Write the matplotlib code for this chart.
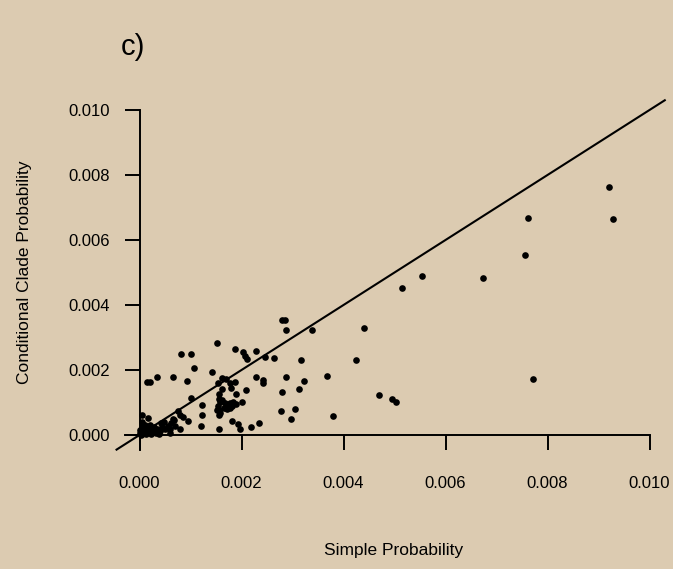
import matplotlib
matplotlib.use('Agg')
import matplotlib.pyplot as plt
from matplotlib.ticker import FormatStrFormatter

plt.rcParams['font.family'] = ['Liberation Sans', 'DejaVu Sans']

# sparse points, upper right
far_x = [0.00921, 0.00929, 0.00762, 0.00756, 0.00673, 0.00772, 0.00554, 0.00515]
far_y = [0.00763, 0.00665, 0.00668, 0.00554, 0.00484, 0.00173, 0.00489, 0.00452]

# middle band
mid_x = [0.00279, 0.00286, 0.00287, 0.00338, 0.00441, 0.00317, 0.00425, 0.00287,
         0.00368, 0.00323, 0.00313, 0.00279, 0.00470, 0.00496, 0.00502, 0.00304,
         0.00277, 0.00298, 0.00379]
mid_y = [0.00354, 0.00354, 0.00323, 0.00323, 0.00330, 0.00231, 0.00231, 0.00179,
         0.00183, 0.00167, 0.00143, 0.00133, 0.00124, 0.00112, 0.00103, 0.00081,
         0.00075, 0.00050, 0.00059]

# dense group around 0.001 - 0.0025
near_x = [0.00151, 0.00081, 0.00100, 0.00187, 0.00202, 0.00207, 0.00210, 0.00228,
          0.00247, 0.00264, 0.00107, 0.00143, 0.00015, 0.00020, 0.00035, 0.00066,
          0.00094, 0.00153, 0.00161, 0.00169, 0.00187, 0.00177, 0.00228, 0.00243,
          0.00243, 0.00179, 0.00162, 0.00155, 0.00156, 0.00162, 0.00209, 0.00189,
          0.00101, 0.00122, 0.00200, 0.00174, 0.00181, 0.00189, 0.00166, 0.00156,
          0.00153, 0.00155, 0.00122, 0.00075, 0.00079, 0.00085, 0.00095, 0.00181,
          0.00194, 0.00198, 0.00218, 0.00234, 0.00156, 0.00120, 0.00079, 0.00060,
          0.00158, 0.00168, 0.00177, 0.00184, 0.00151, 0.00158, 0.00171, 0.00177]
near_y = [0.00284, 0.00248, 0.00250, 0.00266, 0.00255, 0.00243, 0.00233, 0.00259,
          0.00241, 0.00237, 0.00207, 0.00193, 0.00162, 0.00162, 0.00179, 0.00179,
          0.00167, 0.00159, 0.00176, 0.00173, 0.00164, 0.00161, 0.00179, 0.00169,
          0.00159, 0.00144, 0.00142, 0.00125, 0.00111, 0.00108, 0.00138, 0.00125,
          0.00115, 0.00092, 0.00101, 0.00089, 0.00089, 0.00094, 0.00082, 0.00077,
          0.00089, 0.00062, 0.00062, 0.00073, 0.00062, 0.00056, 0.00043, 0.00044,
          0.00034, 0.00018, 0.00026, 0.00036, 0.00018, 0.00028, 0.00018, 0.00005,
          0.00101, 0.00098, 0.00098, 0.00103, 0.00077, 0.00067, 0.00080, 0.00083]

# cluster at the origin
orig_x = [0.00002, 0.00005, 0.00010, 0.00003, 0.00008, 0.00015, 0.00020, 0.00012,
          0.00004, 0.00018, 0.00025, 0.00030, 0.00035, 0.00040, 0.00028, 0.00045,
          0.00050, 0.00055, 0.00060, 0.00010, 0.00020, 0.00004, 0.00017, 0.00004,
          0.00043, 0.00049, 0.00062, 0.00000, 0.00001, 0.00007, 0.00012, 0.00022,
          0.00032, 0.00038, 0.00065, 0.00068, 0.00070]
orig_y = [0.00000, 0.00002, 0.00005, 0.00010, 0.00012, 0.00010, 0.00008, 0.00018,
          0.00022, 0.00020, 0.00015, 0.00010, 0.00020, 0.00012, 0.00025, 0.00025,
          0.00018, 0.00028, 0.00020, 0.00030, 0.00032, 0.00062, 0.00051, 0.00041,
          0.00036, 0.00041, 0.00036, 0.00005, 0.00015, 0.00030, 0.00004, 0.00003,
          0.00005, 0.00003, 0.00050, 0.00045, 0.00028]

diag = [-0.00045, 0.0103]
ticks = [0.0, 0.002, 0.004, 0.006, 0.008, 0.010]

bg = '#dccbb1'

fig = plt.figure(figsize=(6.73, 5.69), dpi=100, facecolor=bg)
ax = fig.add_axes([114 / 673, 117.75 / 569, 561 / 673, 357.5 / 569], facecolor=bg)

xs = far_x + mid_x + near_x + orig_x
ys = far_y + mid_y + near_y + orig_y
ax.plot(xs, ys, 'o', color='black', ms=4.8, mew=0)
ax.plot(diag, diag, color='black', lw=1.5)

ax.set_xlim(-0.0005, 0.0105)
ax.set_ylim(-0.0005, 0.0105)

for s in ['top', 'right']:
    ax.spines[s].set_visible(False)
ax.spines['left'].set_position(('data', 0))
ax.spines['bottom'].set_position(('data', 0))
ax.spines['left'].set_bounds(-0.00046, 0.010)
ax.spines['bottom'].set_bounds(-0.00028, 0.010)
for s in ['left', 'bottom']:
    ax.spines[s].set_linewidth(1.4)

ax.set_xticks(ticks)
ax.set_yticks(ticks)
ax.xaxis.set_major_formatter(FormatStrFormatter('%.3f'))
ax.yaxis.set_major_formatter(FormatStrFormatter('%.3f'))
ax.tick_params(axis='x', direction='out', length=10.8, width=1.4, pad=19, labelsize=12)
ax.tick_params(axis='y', direction='out', length=10.8, width=1.4, pad=10.5, labelsize=12)

fig.text(394 / 673, 1 - 551 / 569, 'Simple Probability', ha='center', va='center', fontsize=12.5)
fig.text(24.5 / 673, 1 - 272 / 569, 'Conditional Clade Probability', ha='center', va='center',
         rotation=90, fontsize=12.5)
fig.text(133 / 673, 1 - 47 / 569, 'c)', ha='center', va='center', fontsize=21)

fig.savefig('out.png', dpi=100, facecolor=bg)
